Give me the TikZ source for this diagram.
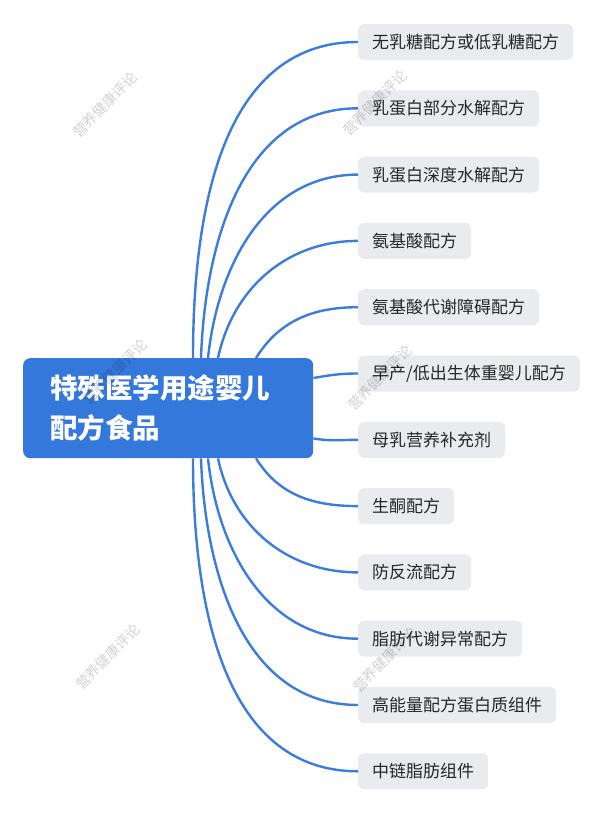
\documentclass[tikz,border=0pt]{standalone}
\usepackage{fontspec}
\newfontfamily\cjk{Noto Sans CJK SC}
\definecolor{linkblue}{RGB}{59,125,221}
\definecolor{rootblue}{RGB}{52,120,219}
\definecolor{leafgray}{RGB}{233,235,238}
\tikzset{
  root/.style={fill=rootblue, rounded corners=7pt, text=white, font=\cjk\bfseries\fontsize{27.5}{40}\selectfont,
    minimum width=290pt, minimum height=100pt, inner xsep=27pt, text width=236pt, align=left, anchor=north west},
  leaf/.style={fill=leafgray, rounded corners=6pt, text=black!85, font=\cjk\fontsize{17}{20}\selectfont,
    minimum height=36pt, inner xsep=14pt, anchor=west},
  link/.style={draw=linkblue, line width=2.4pt},
  wmark/.style={text=black, opacity=0.18, rotate=45, font=\cjk\fontsize{14}{16}\selectfont}
}
\begin{document}
\begin{tikzpicture}[x=1pt, y=1pt]
    \useasboundingbox (0,0) rectangle (600,-814);
    \node[root] (root) at (23,-358) {特殊医学用途婴儿\\配方食品};
    \foreach \t [count=\i] in {无乳糖配方或低乳糖配方, 乳蛋白部分水解配方, 乳蛋白深度水解配方, 氨基酸配方,
        氨基酸代谢障碍配方, 早产/低出生体重婴儿配方, 母乳营养补充剂, 生酮配方,
        防反流配方, 脂肪代谢异常配方, 高能量配方蛋白质组件, 中链脂肪组件}
        \node[leaf] (n\i) at (358, {-42-66.3*(\i-1)}) {\t};
    % upper branches
    \foreach \s/\o/\j in {170/90/1, 178/88/2, 185/84/3, 195/78/4, 233/58/5}
        \draw[link] ([xshift=\s pt]root.north west) to[out=\o, in=180] (n\j.west);
    % side branches
    \draw[link] ([yshift=-20pt]root.north east) to[out=10, in=180] (n6.west);
    \draw[link] ([yshift=20pt]root.south east) to[out=-10, in=180] (n7.west);
    % lower branches
    \foreach \s/\o/\j in {233/-58/8, 195/-78/9, 185/-84/10, 178/-88/11, 170/-90/12}
        \draw[link] ([xshift=\s pt]root.south west) to[out=\o, in=180] (n\j.west);
    % watermarks
    \foreach \x/\y in {105/-105, 375/-103, 115/-372, 380/-378, 108/-657, 385/-660}
        \node[wmark] at (\x,\y) {营养健康评论};
\end{tikzpicture}
\end{document}
